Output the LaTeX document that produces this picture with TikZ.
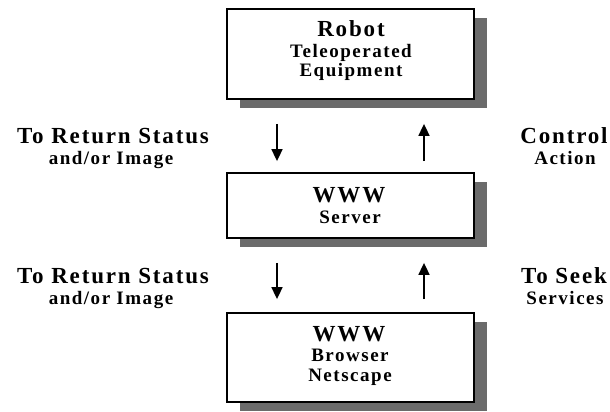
\documentclass[tikz,border=0pt]{standalone}
\usepackage{fontspec}
\setmainfont{Liberation Serif}[LetterSpace=8]
\usetikzlibrary{arrows.meta,shadows}
\definecolor{shadowgray}{HTML}{6B6B6B}
\tikzset{
  box/.style={draw=black, line width=1.8pt, fill=white, minimum width=247pt,
    inner sep=0pt, drop shadow={shadow xshift=13pt, shadow yshift=-9pt, fill=shadowgray, opacity=1}},
  txt/.style={anchor=base, inner sep=0pt, font=\bfseries},
  big/.style={txt, font=\bfseries\fontsize{23}{26}\selectfont},
  small/.style={txt, font=\bfseries\fontsize{19}{22}\selectfont},
  arr/.style={line width=1.7pt, -{Triangle[length=12pt,width=11pt]}}
}
\begin{document}
\begin{tikzpicture}[x=1pt,y=-1pt]
\useasboundingbox (0,0) rectangle (610,412);
% boxes
\node[box, minimum height=90pt] (robotbox) at (350.5,54) {};
\node[box, minimum height=65pt] (serverbox) at (350.5,205.5) {};
\node[box, minimum height=89pt] (browserbox) at (350.5,357.5) {};
% box texts
\node[big] (t1) at (351,37) {Robot};
\node[small] (t2) at (351,58) {Teleoperated};
\node[small] (t3) at (351,77) {Equipment};
\node[big] (s1) at (349,202) {W\hspace{2pt}W\hspace{2pt}W};
\node[small] (s2) at (350,223) {Server};
\node[big] (b1) at (349,341) {W\hspace{2pt}W\hspace{2pt}W};
\node[small] (b2) at (350,361) {Browser};
\node[small] (b3) at (350,381) {Netscape};
% side labels
\node[big] (l1a) at (113,143) {To Return Status};
\node[small] (l1b) at (111,164) {and/or Image};
\node[big] (r1a) at (564,143) {Control};
\node[small] (r1b) at (565,164) {Action};
\node[big] (l2a) at (113,283) {To Return Status};
\node[small] (l2b) at (111,304) {and/or Image};
\node[big] (r2a) at (564,283) {To Seek};
\node[small] (r2b) at (565,304) {Services};
% arrows
\draw[arr] ([xshift=-73.5pt,yshift=-24pt]robotbox.south) -- ([xshift=-73.5pt,yshift=11pt]serverbox.north);
\draw[arr] ([xshift=73.5pt,yshift=11pt]serverbox.north) -- ([xshift=73.5pt,yshift=-24pt]robotbox.south);
\draw[arr] ([xshift=-73.5pt,yshift=-24pt]serverbox.south) -- ([xshift=-73.5pt,yshift=13pt]browserbox.north);
\draw[arr] ([xshift=73.5pt,yshift=13pt]browserbox.north) -- ([xshift=73.5pt,yshift=-24pt]serverbox.south);
\end{tikzpicture}
\end{document}
